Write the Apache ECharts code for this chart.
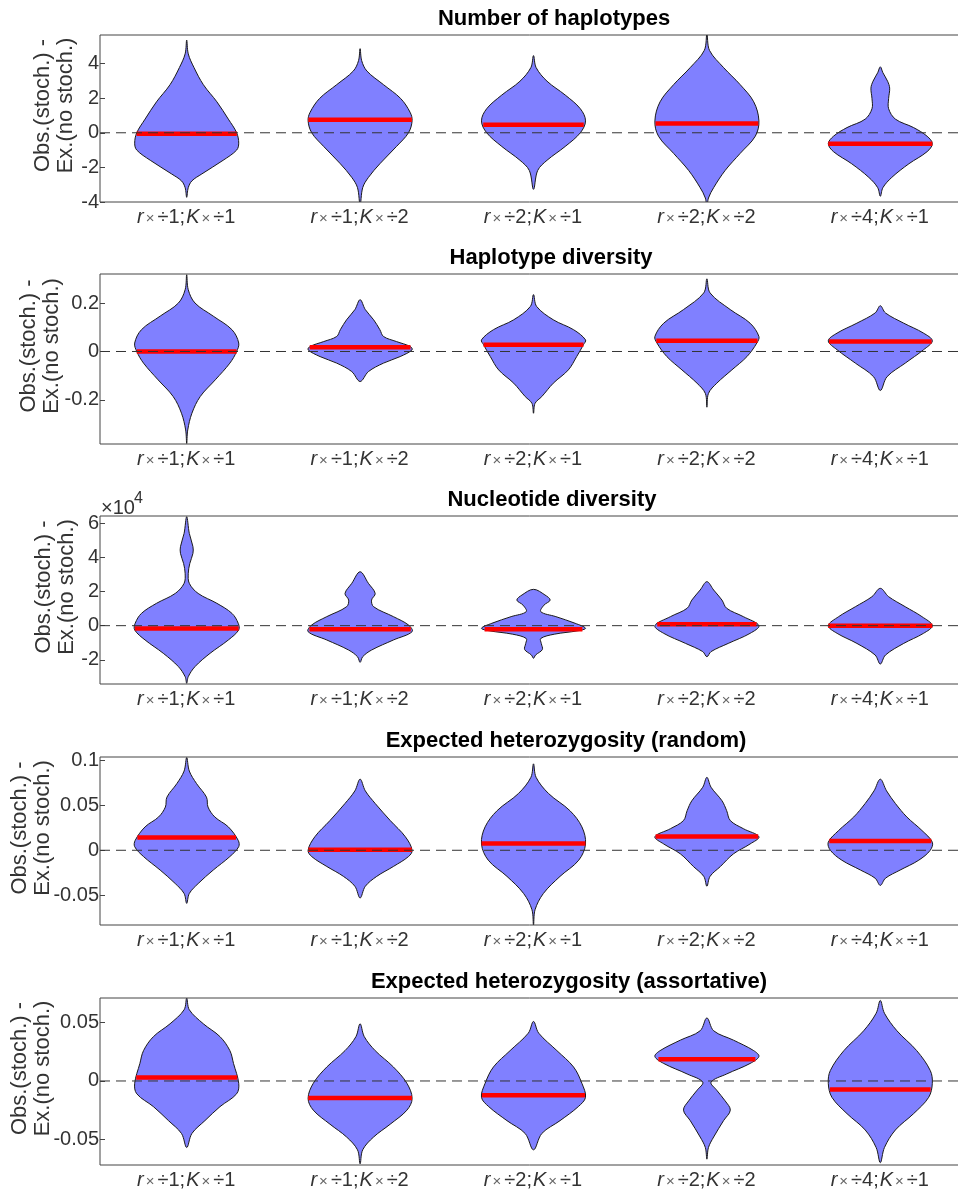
<!DOCTYPE html>
<html>
<head>
<meta charset="utf-8">
<script src="https://cdn.jsdelivr.net/npm/echarts@6/dist/echarts.min.js"></script>
<style>
html, body { margin: 0; padding: 0; background: #fff; }
#main { width: 958px; height: 1190px; }
</style>
</head>
<body>
<div id="main"></div>
<script>
// categories on every x axis
var categories = ['r×÷1;K×÷1', 'r×÷1;K×÷2', 'r×÷2;K×÷1', 'r×÷2;K×÷2', 'r×÷4;K×÷1'];
var panelTitles = ['Number of haplotypes', 'Haplotype diversity', 'Nucleotide diversity',
    'Expected heterozygosity (random)', 'Expected heterozygosity (assortative)'];

// y limits and tick labels for each panel (nucleotide diversity in units of 1e-4)
var yMin = [-4, -0.382, -3.42, -0.083, -0.072];
var yMax = [5.65, 0.32, 6.43, 0.1036, 0.0711];
var yTicks = [[-4, -2, 0, 2, 4], [-0.2, 0, 0.2], [-2, 0, 2, 4, 6], [-0.05, 0, 0.05, 0.1], [-0.05, 0, 0.05]];

// violin outlines: [value, relative half width] from bottom tip to top tip
var numHaplotypes = [
    [[-3.73,0],[-3.17,0.03],[-2.78,0.1],[-2.38,0.29],[-1.59,0.7],[-1.0,0.96],[-0.6,1.0],[0,0.96],[0.79,0.8],[1.79,0.58],[2.78,0.32],[3.77,0.14],[4.56,0.03],[5.36,0]],
    [[-4.17,0],[-3.17,0.05],[-2.58,0.16],[-1.79,0.38],[-0.79,0.7],[0,0.93],[0.7,1.0],[1.19,0.96],[1.98,0.78],[2.78,0.45],[3.57,0.13],[4.17,0.03],[4.86,0]],
    [[-3.27,0],[-2.18,0.08],[-1.59,0.26],[-0.79,0.61],[0,0.9],[0.69,1.0],[1.39,0.9],[2.18,0.61],[2.98,0.26],[3.77,0.05],[4.46,0]],
    [[-4.3,0],[-3.77,0.03],[-3.17,0.13],[-2.18,0.35],[-1.19,0.64],[-0.2,0.93],[0.69,1.0],[1.79,0.9],[2.78,0.64],[3.77,0.32],[4.76,0.05],[5.7,0]],
    [[-3.67,0],[-3.17,0.05],[-2.58,0.22],[-1.79,0.55],[-1.09,0.9],[-0.63,1.0],[-0.2,0.9],[0.3,0.64],[0.79,0.29],[1.39,0.16],[1.98,0.16],[2.58,0.18],[2.98,0.14],[3.47,0.05],[3.81,0]]
];
var numHaplotypesMedian = [-0.05, 0.75, 0.46, 0.54, -0.63];

var hapDiversity = [
    [[-0.38,0],[-0.324,0.02],[-0.255,0.1],[-0.186,0.26],[-0.117,0.55],[-0.048,0.83],[0,0.96],[0.035,1.0],[0.09,0.87],[0.146,0.51],[0.2,0.16],[0.255,0.03],[0.317,0]],
    [[-0.124,0],[-0.083,0.16],[-0.048,0.45],[-0.021,0.77],[0.007,1.0],[0.021,0.96],[0.041,0.7],[0.062,0.45],[0.09,0.38],[0.131,0.26],[0.173,0.1],[0.214,0]],
    [[-0.255,0],[-0.214,0.03],[-0.186,0.16],[-0.131,0.38],[-0.076,0.67],[-0.021,0.83],[0.028,0.96],[0.048,1.0],[0.09,0.77],[0.131,0.38],[0.186,0.06],[0.235,0]],
    [[-0.23,0],[-0.173,0.03],[-0.131,0.19],[-0.076,0.48],[-0.021,0.77],[0.035,0.96],[0.062,1.0],[0.117,0.83],[0.173,0.45],[0.242,0.06],[0.3,0]],
    [[-0.161,0],[-0.104,0.13],[-0.048,0.48],[0.007,0.83],[0.044,1.0],[0.076,0.83],[0.117,0.45],[0.159,0.1],[0.189,0]]
];
var hapDiversityMedian = [0, 0.018, 0.028, 0.044, 0.041];

var nucDiversity = [
    [[-3.38,0],[-2.99,0.03],[-2.4,0.16],[-1.62,0.45],[-0.84,0.8],[-0.25,1.0],[0.14,0.99],[0.72,0.87],[1.31,0.58],[1.89,0.22],[2.48,0.05],[3.07,0.03],[3.65,0.06],[4.24,0.12],[4.63,0.12],[5.41,0.05],[6.39,0]],
    [[-2.15,0],[-1.82,0.05],[-1.43,0.22],[-0.84,0.64],[-0.35,1.0],[0.04,0.93],[0.53,0.64],[1.11,0.26],[1.5,0.22],[1.89,0.29],[2.48,0.16],[3.16,0]],
    [[-1.91,0],[-1.72,0.04],[-1.4,0.17],[-1.05,0.15],[-0.75,0.14],[-0.5,0.4],[-0.3,0.85],[-0.15,1.0],[0.14,0.8],[0.53,0.43],[0.82,0.14],[1.2,0.2],[1.5,0.32],[1.8,0.22],[2.13,0]],
    [[-1.82,0],[-1.52,0.08],[-1.04,0.41],[-0.45,0.83],[0,1.0],[0.53,0.7],[1.02,0.38],[1.5,0.29],[2.09,0.13],[2.58,0]],
    [[-2.25,0],[-1.72,0.1],[-1.04,0.45],[-0.45,0.83],[0,1.0],[0.53,0.8],[1.11,0.48],[1.7,0.16],[2.19,0]]
];
var nucDiversityMedian = [-0.16, -0.21, -0.21, 0.08, 0];

var hetRandom = [
    [[-0.059,0],[-0.048,0.05],[-0.037,0.22],[-0.022,0.51],[-0.007,0.83],[0.004,1.0],[0.011,0.99],[0.026,0.8],[0.037,0.54],[0.048,0.41],[0.059,0.38],[0.074,0.19],[0.088,0.05],[0.103,0]],
    [[-0.053,0],[-0.04,0.1],[-0.029,0.32],[-0.018,0.64],[-0.007,0.93],[0,1.0],[0.015,0.87],[0.033,0.58],[0.052,0.29],[0.066,0.1],[0.079,0]],
    [[-0.083,0],[-0.066,0.03],[-0.048,0.19],[-0.029,0.51],[-0.011,0.87],[0.007,1.0],[0.026,0.93],[0.044,0.7],[0.063,0.29],[0.081,0.05],[0.096,0]],
    [[-0.04,0],[-0.029,0.06],[-0.018,0.26],[-0.004,0.51],[0.007,0.83],[0.015,1.0],[0.024,0.7],[0.033,0.45],[0.044,0.38],[0.055,0.29],[0.07,0.08],[0.081,0]],
    [[-0.039,0],[-0.031,0.1],[-0.022,0.38],[-0.011,0.74],[0,0.96],[0.009,1.0],[0.022,0.8],[0.037,0.51],[0.052,0.29],[0.066,0.12],[0.079,0]]
];
var hetRandomMedian = [0.0143, 0.0007, 0.0074, 0.0154, 0.0103];

var hetAssort = [
    [[-0.057,0],[-0.045,0.1],[-0.034,0.35],[-0.022,0.64],[-0.011,0.96],[-0.002,1.0],[0.015,0.9],[0.026,0.83],[0.038,0.64],[0.049,0.32],[0.061,0.05],[0.071,0]],
    [[-0.071,0],[-0.059,0.05],[-0.048,0.26],[-0.037,0.58],[-0.025,0.9],[-0.015,1.0],[-0.002,0.9],[0.012,0.64],[0.026,0.29],[0.038,0.08],[0.049,0]],
    [[-0.059,0],[-0.045,0.16],[-0.034,0.51],[-0.022,0.86],[-0.014,1.0],[-0.002,0.93],[0.012,0.77],[0.026,0.45],[0.041,0.1],[0.051,0]],
    [[-0.067,0],[-0.057,0.03],[-0.048,0.13],[-0.034,0.32],[-0.025,0.45],[-0.017,0.35],[-0.008,0.19],[-0.001,0.08],[0.006,0.38],[0.015,0.83],[0.021,1.0],[0.026,0.9],[0.035,0.51],[0.043,0.13],[0.054,0]],
    [[-0.07,0],[-0.057,0.08],[-0.042,0.29],[-0.028,0.64],[-0.014,0.93],[-0.002,1.0],[0.009,0.96],[0.026,0.7],[0.043,0.32],[0.058,0.08],[0.069,0]]
];
var hetAssortMedian = [0.003, -0.0146, -0.0123, 0.0186, -0.0074];

var panels = [
    [numHaplotypes, numHaplotypesMedian],
    [hapDiversity, hapDiversityMedian],
    [nucDiversity, nucDiversityMedian],
    [hetRandom, hetRandomMedian],
    [hetAssort, hetAssortMedian]
];

// layout
var gridTops = [35, 274, 516, 757, 998];
var gridHeights = [167, 170, 168, 168, 167];
var titleX = [554, 551, 552, 566, 569];
var nameGaps = [23, 37, 22, 46, 46];

var myChart = echarts.init(document.getElementById('main'));

function widthAt(prof, v) {
    for (var j = 1; j < prof.length; j++) {
        if (v <= prof[j][0]) {
            var a = prof[j - 1], b = prof[j];
            return a[1] + (b[1] - a[1]) * (v - a[0]) / (b[0] - a[0]);
        }
    }
    return 0;
}

function violinRenderer(profiles, medians) {
    return function (params, api) {
        var i = api.value(0);
        var prof = profiles[i];
        var maxHalf = api.size([1, 0])[0] * 0.3;
        var cx = api.coord([i, 0])[0];
        var right = [], left = [];
        prof.forEach(function (p) {
            var y = api.coord([i, p[0]])[1];
            right.push([cx + p[1] * maxHalf, y]);
            left.unshift([cx - p[1] * maxHalf, y]);
        });
        var pts = right.concat(left.slice(1, left.length - 1));
        var my = api.coord([i, medians[i]])[1];
        var mw = widthAt(prof, medians[i]) * maxHalf;
        return {
            type: 'group',
            children: [{
                type: 'polygon',
                shape: { points: pts, smooth: 0.35 },
                style: { fill: '#8080ff', stroke: '#1a1a1a', lineWidth: 1 }
            }, {
                type: 'line',
                shape: { x1: cx - mw, y1: my, x2: cx + mw, y2: my },
                style: { stroke: '#ff0000', lineWidth: 4.5 }
            }]
        };
    };
}

// dashed zero line plus the open axes frame (top, left, bottom)
function frameRenderer(params, api) {
    var cs = params.coordSys;
    var y = api.coord([0, 0])[1];
    var x0 = cs.x, x1 = cs.x + cs.width, y0 = cs.y, y1 = cs.y + cs.height;
    return {
        type: 'group',
        children: [
            { type: 'line', shape: { x1: x0, y1: y, x2: x1, y2: y },
              style: { stroke: '#333', lineWidth: 1, lineDash: [10, 6] } },
            { type: 'polyline', shape: { points: [[x1, y0], [x0, y0], [x0, y1], [x1, y1]] },
              style: { fill: 'none', stroke: '#444', lineWidth: 1 } }
        ]
    };
}

function catLabel(s) {
    var parts = s.split(';');
    var a = parts[0], b = parts[1];
    return '{it|' + a[0] + '}{x|' + a[1] + '}{n|' + a.slice(2) + ';}' +
        '{it|' + b[0] + '}{x|' + b[1] + '}{n|' + b.slice(2) + '}';
}

var grids = [], xAxes = [], yAxes = [], series = [], titles = [];
panels.forEach(function (pn, k) {
    grids.push({
        left: 100, width: 867, top: gridTops[k], height: gridHeights[k],
        containLabel: false, outerBoundsMode: 'none', show: false
    });
    titles.push({
        text: panelTitles[k], left: titleX[k], top: gridTops[k] - 27, textAlign: 'center', padding: 0,
        textStyle: { fontFamily: 'Liberation Sans', fontWeight: 'bold', fontSize: 22, color: '#000' }
    });
    xAxes.push({
        gridIndex: k, type: 'category', data: categories, boundaryGap: true,
        axisLine: { show: false }, axisTick: { show: false }, splitLine: { show: false },
        axisLabel: {
            interval: 0, margin: 5, formatter: catLabel,
            rich: {
                it: { fontFamily: 'Liberation Sans', fontStyle: 'italic', fontSize: 20, color: '#333' },
                x: { fontFamily: 'Liberation Sans', fontSize: 15, color: '#666', padding: [3, 2, 0, 2] },
                n: { fontFamily: 'Liberation Sans', fontSize: 20, color: '#333', padding: [0, 1, 0, 1] }
            }
        }
    });
    yAxes.push({
        gridIndex: k, type: 'value', min: yMin[k], max: yMax[k],
        axisLine: { show: false }, splitLine: { show: false },
        axisTick: { show: true, inside: true, length: 5, customValues: yTicks[k], lineStyle: { color: '#444' } },
        axisLabel: {
            customValues: yTicks[k], margin: 1, fontFamily: 'Liberation Sans', fontSize: 20, color: '#333'
        },
        name: 'Obs.(stoch.) -\nEx.(no stoch.)', nameLocation: 'middle', nameGap: nameGaps[k],
        nameMoveOverlap: false,
        nameTextStyle: {
            fontFamily: 'Liberation Sans', fontSize: 22, lineHeight: 23, color: '#333',
            padding: [0, 0, 0, 26]
        }
    });
    series.push({
        type: 'custom', xAxisIndex: k, yAxisIndex: k, clip: true, z: 2,
        renderItem: violinRenderer(pn[0], pn[1]),
        data: categories.map(function (c, i) { return [i]; })
    });
    series.push({
        type: 'custom', xAxisIndex: k, yAxisIndex: k, z: 5,
        renderItem: frameRenderer, data: [[0]]
    });
});

var option = {
    backgroundColor: '#fff',
    animation: false,
    title: titles,
    grid: grids,
    xAxis: xAxes,
    yAxis: yAxes,
    series: series,
    graphic: [
        { type: 'text', left: 101, top: 498, style: { text: '×10', fontFamily: 'Liberation Sans', fontSize: 20, fill: '#333' } },
        { type: 'text', left: 134, top: 491, style: { text: '4', fontFamily: 'Liberation Sans', fontSize: 16, fill: '#333' } }
    ]
};
myChart.setOption(option);
</script>
</body>
</html>
